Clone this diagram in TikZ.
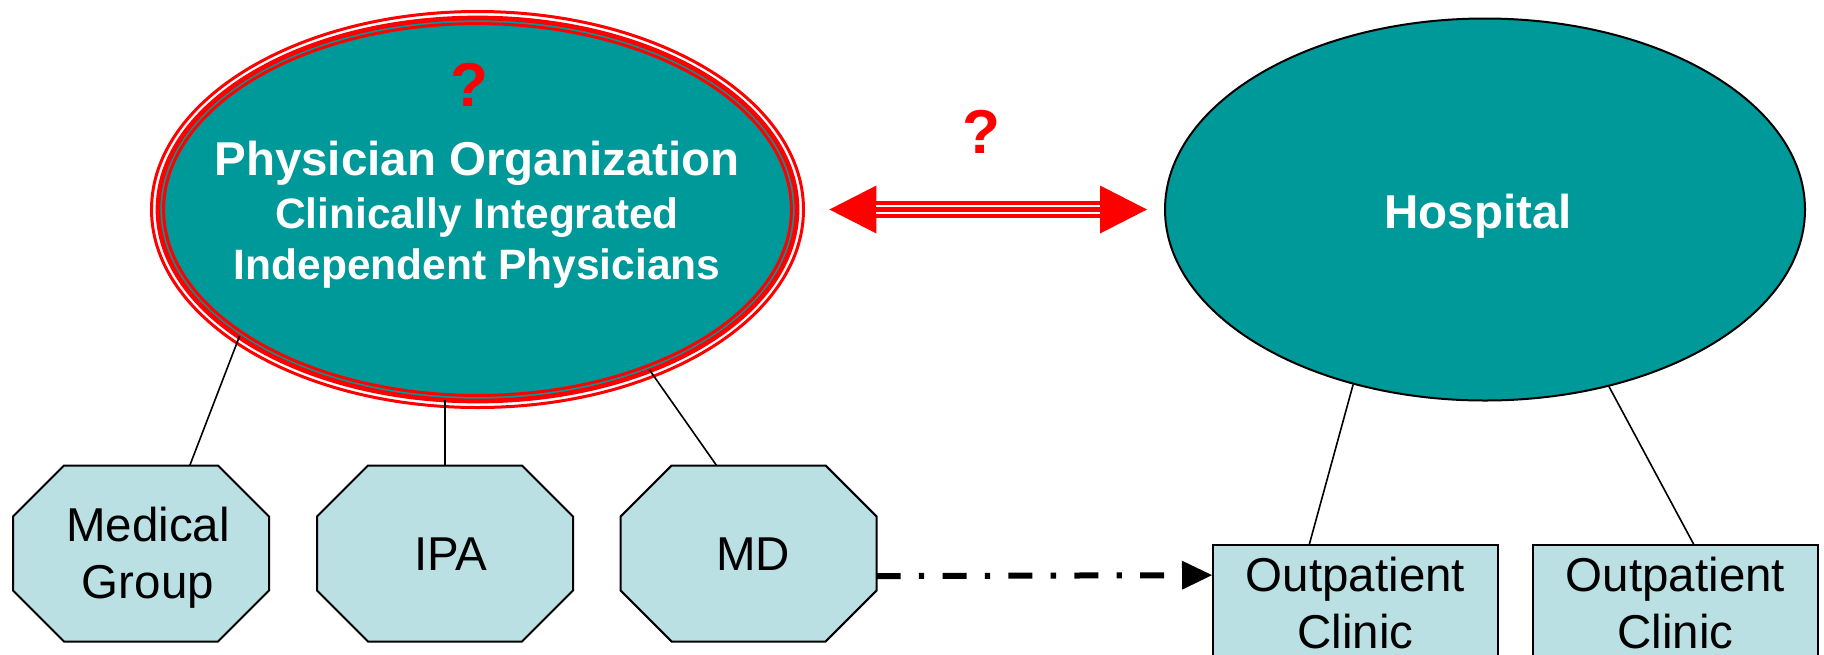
\documentclass[tikz,border=0pt]{standalone}
\usepackage{fontspec}
\setmainfont{Liberation Sans}
\usetikzlibrary{shapes.geometric,arrows.meta,calc}
\definecolor{tealfill}{RGB}{0,153,153}
\definecolor{paleteal}{RGB}{187,224,227}
% octagonal outline around a named rectangular node, corners cut by 25.5pt
\newcommand\octoutline[1]{%
  \draw[octline] ($(#1.north west)+(25.5pt,0)$) -- ($(#1.north east)+(-25.5pt,0)$)
    -- ($(#1.north east)+(0,-25.5pt)$) -- ($(#1.south east)+(0,25.5pt)$)
    -- ($(#1.south east)+(-25.5pt,0)$) -- ($(#1.south west)+(25.5pt,0)$)
    -- ($(#1.south west)+(0,25.5pt)$) -- ($(#1.north west)+(0,-25.5pt)$) -- cycle;}
\begin{document}
\begin{tikzpicture}[x=0.5pt,y=-0.5pt,
  orgoval/.style={ellipse, inner sep=0pt, fill=tealfill},
  unitframe/.style={rectangle, minimum width=128pt, minimum height=88pt, inner sep=0pt, outer sep=0pt},
  octline/.style={draw=black, line width=1pt, fill=paleteal},
  unittext/.style={font=\fontsize{23.75}{28.3}\selectfont, align=center, inner sep=0pt},
  clinicbox/.style={rectangle, minimum width=142.5pt, minimum height=58pt,
    inner sep=0pt, draw=black, line width=1pt, fill=paleteal,
    font=\fontsize{23.75}{28.5}\selectfont, align=center},
  link/.style={draw=black, line width=0.8pt},
  ovaltext/.style={text=white, font=\bfseries\fontsize{23.75}{28}\selectfont, anchor=base, inner sep=0pt},
  subtext/.style={text=white, font=\bfseries\fontsize{21.25}{25}\selectfont, anchor=base, inner sep=0pt},
  query/.style={text=red, font=\bfseries\fontsize{31}{36}\selectfont, anchor=base, inner sep=0pt},
  redring/.style={draw=red},
]
\useasboundingbox (0,0) rectangle (1824,654);
\clip (0,0) rectangle (1824,654);

% physician organization: teal oval with triple red rim
\node[orgoval, minimum width=318pt, minimum height=190pt] (po) at (477.5,209.5) {};
\draw[redring, line width=1.5pt]  (po.center) ellipse [x radius=163pt, y radius=99pt];
\draw[redring, line width=2.35pt] (po.center) ellipse [x radius=159.75pt, y radius=95.75pt];
\draw[redring, line width=1.5pt]  (po.center) ellipse [x radius=156.95pt, y radius=92.95pt];
\node[query] (q1) at (469,106) {?};
\node[ovaltext] (potitle) at (477,175) {Physician Organization};
\node[subtext] (posub1) at (477,228.3) {Clinically Integrated};
\node[subtext] (posub2) at (477,279.3) {Independent Physicians};

% hospital
\node[orgoval, draw=black, line width=1pt, minimum width=320pt, minimum height=191pt] (hosp) at (1485,209.5) {};
\node[ovaltext] (hosptitle) at (1478,228) {Hospital};

% relationship arrow between the two
\node[query] (q2) at (981,153) {?};
\draw[red, line width=8.15pt,
  {Triangle[length=23.5pt,width=24pt,line width=0pt]}-{Triangle[length=23.5pt,width=24pt,line width=0pt]},
  shorten <=16.75pt, shorten >=8.5pt] (po.east) -- (hosp.west);
\draw[white, line width=1.15pt, double=red, double distance=2.5pt,
  shorten <=40.25pt, shorten >=32pt] (po.east) -- (hosp.west);

% physician units: octagons
\node[unitframe] (mg) at (141,553.5) {};
\node[unitframe] (ipa) at (445,553.5) {};
\node[unitframe] (md) at (748.6,553.5) {};
\octoutline{mg}
\octoutline{ipa}
\octoutline{md}
\node[unittext] (mgtext) at (148,558) {Medical\\Group};
\node[unittext] (ipatext) at (451,554) {IPA};
\node[unittext] (mdtext) at (753,554) {MD};

% hospital clinics
\node[clinicbox] (oc1) at (1355.5,603) {Outpatient\\Clinic};
\node[clinicbox] (oc2) at (1675.5,603) {Outpatient\\Clinic};

% tree links
\draw[link] (po.208.4) -- (mg.61);
\draw[link] (ipa.north |- po.south) -- (ipa.north);
\draw[link] (po.317.5) -- (md.110.8);
\draw[link] (hosp.233.5) -- (oc1.128.7);
\draw[link] (hosp.305.8) -- (oc2.73.5);

% MD to clinic
\draw[black, line width=3pt, dash pattern=on 12pt off 9.15pt on 2.65pt off 9.15pt,
  -{Triangle[length=15pt,width=14.5pt,line width=0pt]}] (md.-10.6) -- (oc1.169.9);
\end{tikzpicture}
\end{document}
